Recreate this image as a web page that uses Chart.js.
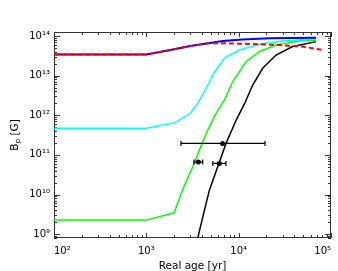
<!DOCTYPE html>
<html><head><meta charset="utf-8">
<script src="https://cdn.jsdelivr.net/npm/chart.js@4/dist/chart.umd.min.js"></script>
<style>html,body{margin:0;padding:0;background:#fff}canvas{display:block}</style>
</head><body>
<canvas id="c" width="338" height="271"></canvas>
<script>
// ---- tick values and labels ----
const xTicks = [1e2, 1e3, 1e4, 1e5];
const xTickLabels = ['10²', '10³', '10⁴', '10⁵'];
const yTicks = [1e9, 1e10, 1e11, 1e12, 1e13, 1e14];
const yTickLabels = ['10⁹', '10¹⁰', '10¹¹', '10¹²', '10¹³', '10¹⁴'];
const xTitle = 'Real age [yr]';
const yTitleMain = 'B', yTitleSub = 'p', yTitleRest = ' [G]';

// ---- series (age in yr, B_p in G) ----
const blueAge = [100, 1000, 2000, 3000, 4500, 6700, 11000, 21500, 69000];
const blueB   = [3.4e13, 3.4e13, 4.6e13, 5.6e13, 6.5e13, 7.5e13, 8.2e13, 8.75e13, 9.05e13];

const redAge = [100, 1000, 2000, 3000, 4500, 5700, 13000, 27500, 49000, 84500];
const redB   = [3.4e13, 3.4e13, 4.6e13, 5.6e13, 6.5e13, 6.6e13, 6.3e13, 5.9e13, 5.4e13, 4.4e13];

const cyanAge = [100, 1000, 2000, 3000, 3700, 4450, 5450, 7100, 10200, 16700, 30000, 69000];
const cyanB   = [4.67e11, 4.7e11, 6.35e11, 1.12e12, 2.2e12, 4.8e12, 1.2e13, 2.85e13, 4.43e13, 6.17e13, 7.48e13, 8.4e13];

const greenAge = [100, 1000, 2000, 2480, 3180, 3760, 4620, 5700, 7000, 8600, 12000, 16700, 25400, 45300, 69000];
const greenB   = [2.26e9, 2.26e9, 3.45e9, 1.35e10, 5.0e10, 1.32e11, 4.23e11, 1.12e12, 2.42e12, 7.0e12, 2.24e13, 4.0e13, 5.9e13, 7.5e13, 7.9e13];

const blackAge = [3600, 4260, 4820, 5930, 7300, 9400, 11500, 14200, 18200, 25400, 38400, 69000];
const blackB   = [7.9e8, 4.04e9, 1.29e10, 5.0e10, 1.95e11, 7.56e11, 1.9e12, 5.8e12, 1.53e13, 3.3e13, 5.4e13, 7.2e13];

// ---- observed points with horizontal error bars ----
const obsAge = [6700, 3660, 6180];
const obsAgeLo = [2370, 3280, 5240];
const obsAgeHi = [19300, 4080, 7280];
const obsB = [1.95e11, 6.6e10, 6.1e10];

const pts = (xs, ys) => xs.map((v, i) => ({x: v, y: ys[i]}));

function curve(label, xs, ys, color, width, dash, order) {
  return {type: 'line', label, data: pts(xs, ys), borderColor: color, borderWidth: width,
    borderDash: dash || [], pointRadius: 0, tension: 0, fill: false, clip: 0, order};
}

const datasets = [
  curve('red', redAge, redB, '#ff0000', 2, [5, 3], 1),
  curve('blue', blueAge, blueB, '#0000ff', 2, null, 2),
  curve('cyan', cyanAge, cyanB, '#00ffff', 1.5, null, 3),
  curve('green', greenAge, greenB, '#00ff00', 1.5, null, 4),
  curve('black', blackAge, blackB, '#000000', 1.5, null, 5),
];
obsAge.forEach((a, i) => {
  datasets.push({type: 'line', label: 'err' + i,
    data: [{x: obsAgeLo[i], y: obsB[i]}, {x: obsAgeHi[i], y: obsB[i]}],
    borderColor: '#000', borderWidth: 1.2, pointStyle: 'line', pointRotation: 90,
    pointRadius: 2.5, pointBorderWidth: 1.2, pointBorderColor: '#000', tension: 0, order: 0});
});
datasets.push({type: 'scatter', label: 'obs', data: pts(obsAge, obsB), pointStyle: 'circle',
  pointRadius: 2.5, backgroundColor: '#000', borderColor: '#000', borderWidth: 0, order: -1});

const FONT = '"DejaVu Sans", "Liberation Sans", sans-serif';

const framePlugin = {
  id: 'frame',
  beforeDatasetsDraw(chart) {
    const {ctx, chartArea: a, scales: {x, y}} = chart;
    ctx.save();
    ctx.strokeStyle = '#333';
    ctx.lineWidth = 1;
    ctx.strokeRect(a.left + 0.5, a.top + 0.5, a.right - a.left - 1, a.bottom - a.top - 1);
    ctx.beginPath();
    for (let d = Math.floor(Math.log10(x.min)); d <= Math.ceil(Math.log10(x.max)); d++) {
      for (let k = 1; k < 10; k++) {
        const v = k * Math.pow(10, d);
        if (v < x.min * 0.999 || v > x.max * 1.001) continue;
        const p = Math.round(x.getPixelForValue(v)) + 0.5;
        const len = k === 1 ? 5 : 3;
        ctx.moveTo(p, a.bottom); ctx.lineTo(p, a.bottom - len);
        ctx.moveTo(p, a.top); ctx.lineTo(p, a.top + len);
      }
    }
    for (let d = Math.floor(Math.log10(y.min)); d <= Math.ceil(Math.log10(y.max)); d++) {
      for (let k = 1; k < 10; k++) {
        const v = k * Math.pow(10, d);
        if (v < y.min * 0.999 || v > y.max * 1.001) continue;
        const p = Math.round(y.getPixelForValue(v)) + 0.5;
        const len = k === 1 ? 6 : 3;
        ctx.moveTo(a.left, p); ctx.lineTo(a.left + len, p);
        ctx.moveTo(a.right, p); ctx.lineTo(a.right - len, p);
      }
    }
    ctx.stroke();
    ctx.restore();
  },
  afterDraw(chart) {
    const {ctx, chartArea: a} = chart;
    ctx.save();
    ctx.translate(14, (a.top + a.bottom) / 2);
    ctx.rotate(-Math.PI / 2);
    ctx.fillStyle = '#000';
    ctx.textBaseline = 'alphabetic';
    const f1 = '10.5px ' + FONT, f2 = '7.5px ' + FONT;
    ctx.font = f1;
    const wB = ctx.measureText(yTitleMain).width, wR = ctx.measureText(yTitleRest).width;
    ctx.font = f2;
    const wp = ctx.measureText(yTitleSub).width;
    let sx = -(wB + wp + wR) / 2;
    ctx.font = f1; ctx.fillText(yTitleMain, sx, 4); sx += wB;
    ctx.font = f2; ctx.fillText(yTitleSub, sx, 5.5); sx += wp;
    ctx.font = f1; ctx.fillText(yTitleRest, sx, 4);
    ctx.restore();
  }
};

new Chart(document.getElementById('c'), {
  data: {datasets},
  options: {
    responsive: false,
    animation: false,
    devicePixelRatio: 1,
    layout: {padding: {top: 32, right: 7, left: 0, bottom: 0}},
    plugins: {legend: {display: false}, tooltip: {enabled: false}},
    scales: {
      x: {
        type: 'logarithmic', position: 'bottom', min: 1e2, max: 1e5,
        grid: {display: false, drawTicks: false}, border: {display: false},
        afterBuildTicks: s => { s.ticks = xTicks.map(v => ({value: v})); },
        afterFit: s => { s.height = 33; },
        ticks: {
          autoSkip: false, maxRotation: 0, align: 'inner', padding: 7, color: '#000',
          font: {family: FONT, size: 10},
          callback: v => xTickLabels[xTicks.findIndex(t => Math.abs(Math.log10(t) - Math.log10(v)) < 1e-6)] ?? ''
        },
        title: {display: true, text: xTitle, color: '#000', font: {family: FONT, size: 10.5, lineHeight: 0.9},
          padding: {top: 0, bottom: 0}}
      },
      y: {
        type: 'logarithmic', position: 'left', min: 8e8, max: 1.26e14,
        grid: {display: false, drawTicks: false}, border: {display: false},
        afterBuildTicks: s => { s.ticks = yTicks.map(v => ({value: v})); },
        afterFit: s => { s.width = 54; },
        ticks: {
          autoSkip: false, padding: 4, color: '#000',
          font: {family: FONT, size: 10},
          callback: v => yTickLabels[yTicks.findIndex(t => Math.abs(Math.log10(t) - Math.log10(v)) < 1e-6)] ?? ''
        }
      }
    }
  },
  plugins: [framePlugin]
});
</script>
</body></html>
